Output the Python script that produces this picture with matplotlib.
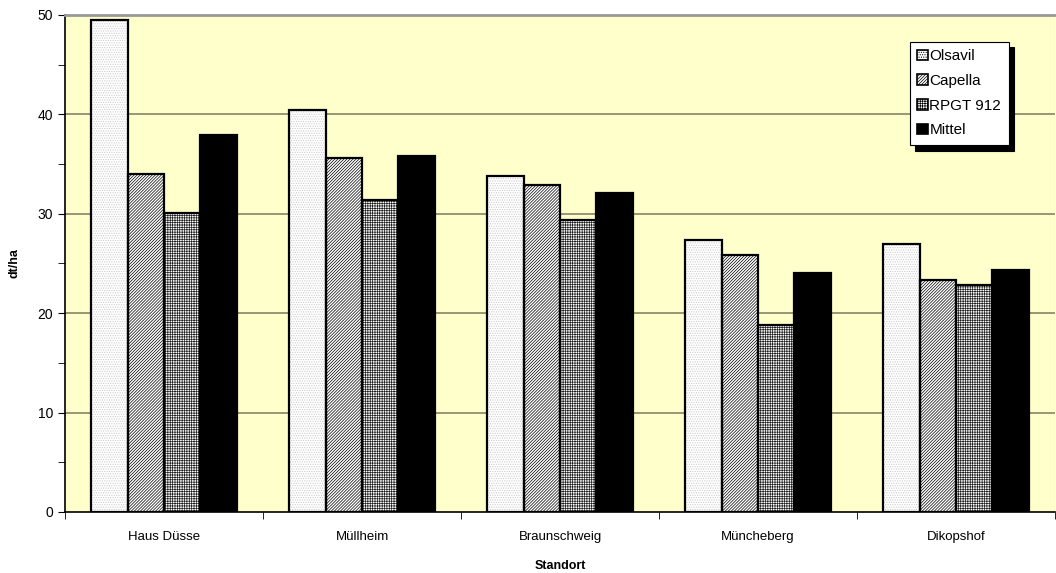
import numpy as np
import matplotlib.pyplot as plt
from matplotlib.patches import Patch

plt.rcParams['font.family'] = ['Liberation Sans', 'DejaVu Sans']
plt.rcParams['hatch.linewidth'] = 0.5

# Ertrag je Standort und Sorte (dt/ha)
standorte = ['Haus Düsse', 'Müllheim', 'Braunschweig', 'Müncheberg', 'Dikopshof']
sorten = ['Olsavil', 'Capella', 'RPGT 912', 'Mittel']
olsavil = [49.5, 40.4, 33.8, 27.4, 27.0]
capella = [34.0, 35.6, 32.9, 25.8, 23.3]
rpgt912 = [30.1, 31.4, 29.4, 18.8, 22.8]
mittel = [37.9, 35.8, 32.1, 24.0, 24.3]
werte = [olsavil, capella, rpgt912, mittel]

# Fuellmuster: (Flaeche, Schraffur, Schraffurfarbe)
muster = [
    ('white', '.' * 7, '#c8c8c8'),
    ('white', '/' * 11, 'black'),
    ('white', '+' * 7, '#202020'),
    ('black', None, 'black'),
]

fig = plt.figure(figsize=(10.56, 5.73), dpi=100)
ax = fig.add_axes([0.0616, 0.1065, 0.9375, 0.8675])
ax.set_facecolor('#ffffcc')

x = np.arange(len(standorte))
breite = 0.184
for i, (vals, (fc, hatch, hc)) in enumerate(zip(werte, muster)):
    pos = x + (i - 1.5) * breite
    ax.bar(pos, vals, breite, color=fc, hatch=hatch, edgecolor=hc, linewidth=0, zorder=2)
    ax.bar(pos, vals, breite, fill=False, edgecolor='black', linewidth=1.6, zorder=3)

ax.set_xlim(-0.5, len(standorte) - 0.5)
ax.set_ylim(0, 50)
ax.set_yticks(np.arange(0, 51, 10))
ax.set_yticks(np.arange(0, 51, 5), minor=True)
ax.set_xticks(x)
ax.set_xticklabels(standorte)
ax.set_xticks(np.arange(-0.5, len(standorte)), minor=True)
ax.tick_params(axis='x', which='major', length=0, pad=14, labelsize=9.5)
ax.tick_params(axis='x', which='minor', length=5, direction='out')
ax.tick_params(axis='y', which='both', length=5, direction='out', labelsize=10)

for y in [10, 20, 30, 40]:
    ax.axhline(y, color='#858566', linewidth=1.2, zorder=1)

ax.spines['top'].set_color('#999999')
ax.spines['top'].set_linewidth(2)
ax.spines['right'].set_visible(False)
ax.spines['left'].set_linewidth(1.2)
ax.spines['bottom'].set_linewidth(1.2)

ax.set_ylabel('dt/ha', fontweight='bold', fontsize=9, labelpad=12)
ax.set_xlabel('Standort', fontweight='bold', fontsize=9, labelpad=12)

handles = [Patch(facecolor=fc, hatch=h, edgecolor='black', linewidth=1.2) for fc, h, _ in muster]
leg = ax.legend(handles, sorten, loc='upper left', bbox_to_anchor=(0.853, 0.946),
                borderaxespad=0, fancybox=False, framealpha=1, edgecolor='black',
                fontsize=11, handlelength=0.7, handleheight=0.7, handletextpad=0.1,
                labelspacing=0.7, borderpad=0.5,
                shadow={'ox': 4, 'oy': -4, 'color': 'black', 'alpha': 1})
leg.get_frame().set_linewidth(0.8)

fig.savefig('out.png', dpi=100)
